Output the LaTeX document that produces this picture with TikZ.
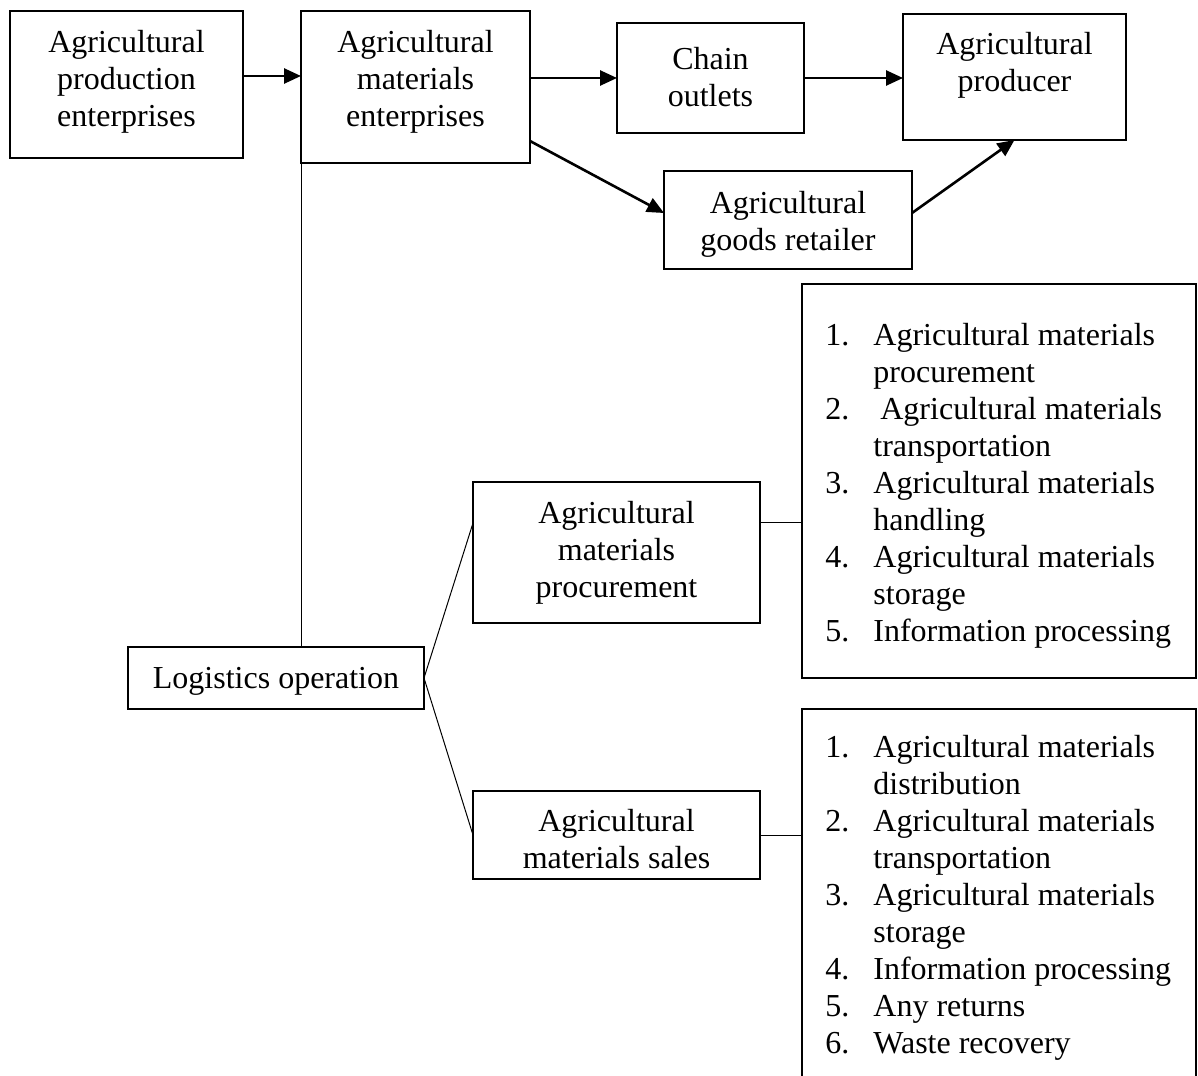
\documentclass[tikz,border=0pt]{standalone}
\usepackage{fontspec}
\setmainfont{Liberation Serif}
\usetikzlibrary{arrows.meta}
% fixed-width slot for the list numbers
\newcommand\itemno[1]{\makebox[24pt][l]{#1}}
\begin{document}
\begin{tikzpicture}[x=0.5pt,y=-0.5pt,
  box/.style={draw, line width=1.4pt, inner sep=0pt, outer sep=0pt},
  listframe/.style={line width=1.1pt},
  boxtext/.style={anchor=base, align=center, inner sep=0pt,
    font=\fontsize{16}{18.5}\selectfont},
  itemlist/.style={anchor=base west, align=left, inner sep=0pt,
    font=\fontsize{16}{18.5}\selectfont},
  flowarrow/.style={line width=1.3pt, -{Triangle[length=8.5pt,width=7.5pt]}},
  thinline/.style={line width=0.5pt}]

\useasboundingbox (0,0) rectangle (1198,1075);
\clip (0,0) rectangle (1198,1075);

% boxes of the supply chain
\node[box, minimum width=116.5pt, minimum height=73.5pt] (prod) at (126.5,84.5) {};
\node[box, minimum width=114.5pt, minimum height=76pt]   (mat)  at (415.5,87) {};
\node[box, minimum width=93.5pt,  minimum height=55pt]   (chain) at (710.5,78) {};
\node[box, minimum width=111.5pt, minimum height=63pt]   (farmer) at (1014.5,77) {};
\node[box, minimum width=124pt,   minimum height=49pt]   (retail) at (788,220) {};

% logistics branch
\node[box, minimum width=148pt,   minimum height=31pt]   (logi) at (276,678) {};
\node[box, minimum width=143.5pt, minimum height=70.5pt] (proc) at (616.5,552.5) {};
\node[box, minimum width=143.5pt, minimum height=44pt]   (sales) at (616.5,835) {};

% activity lists
\node[draw, listframe, inner sep=0pt, outer sep=0pt,
      minimum width=197pt, minimum height=197pt] (list1) at (999,481) {};
\node[inner sep=0pt, outer sep=0pt,
      minimum width=197pt, minimum height=188pt] (list2) at (999,897) {};
\draw[listframe] (list2.south west) -- (list2.north west)
  -- (list2.north east) -- (list2.south east);

% box texts (placed by the baseline of their last line)
\node[boxtext] (prodtext)   at (126.5,127) {Agricultural\\production\\enterprises};
\node[boxtext] (mattext)    at (415.5,127) {Agricultural\\materials\\enterprises};
\node[boxtext] (chaintext)  at (710.5,107) {Chain\\outlets};
\node[boxtext] (farmertext) at (1014.5,92) {Agricultural\\producer};
\node[boxtext] (retailtext) at (788,250)   {Agricultural\\goods retailer};
\node[boxtext] (logitext)   at (276,688)   {Logistics operation};
\node[boxtext] (proctext)   at (616.5,597) {Agricultural\\materials\\procurement};
\node[boxtext] (salestext)  at (616.5,868) {Agricultural\\materials sales};

\node[itemlist] (items1) at (825,641) {%
  \itemno{1.}Agricultural materials\\
  \itemno{}procurement\\
  \itemno{2.}\hspace{3.5pt}Agricultural materials\\
  \itemno{}transportation\\
  \itemno{3.}Agricultural materials\\
  \itemno{}handling\\
  \itemno{4.}Agricultural materials\\
  \itemno{}storage\\
  \itemno{5.}Information processing};

\node[itemlist] (items2) at (825,1053) {%
  \itemno{1.}Agricultural materials\\
  \itemno{}distribution\\
  \itemno{2.}Agricultural materials\\
  \itemno{}transportation\\
  \itemno{3.}Agricultural materials\\
  \itemno{}storage\\
  \itemno{4.}Information processing\\
  \itemno{5.}Any returns\\
  \itemno{6.}Waste recovery};

% flows
\draw[flowarrow] ([yshift=4.25pt]prod.east) -- ([yshift=4.25pt]prod.east -| mat.west);
\draw[flowarrow] (chain.west -| mat.east) -- (chain.west);
\draw[flowarrow] (chain.east) -- (chain.east -| farmer.west);
\draw[flowarrow] ([yshift=-27pt]mat.east) -- ([yshift=3.5pt]retail.west);
\draw[flowarrow] ([yshift=3.5pt]retail.east) -- (farmer.south);

% logistics connectors
\draw[thinline] (mat.south west) -- (mat.south west |- logi.north);
\draw[thinline] (logi.east) -- ([yshift=14.75pt]proc.west);
\draw[thinline] (logi.east) -- (sales.west);
\draw[thinline] ([yshift=15pt]proc.east) -- ([yshift=15pt]proc.east -| list1.west);
\draw[thinline] (sales.east) -- (sales.east -| list2.west);
\end{tikzpicture}
\end{document}
